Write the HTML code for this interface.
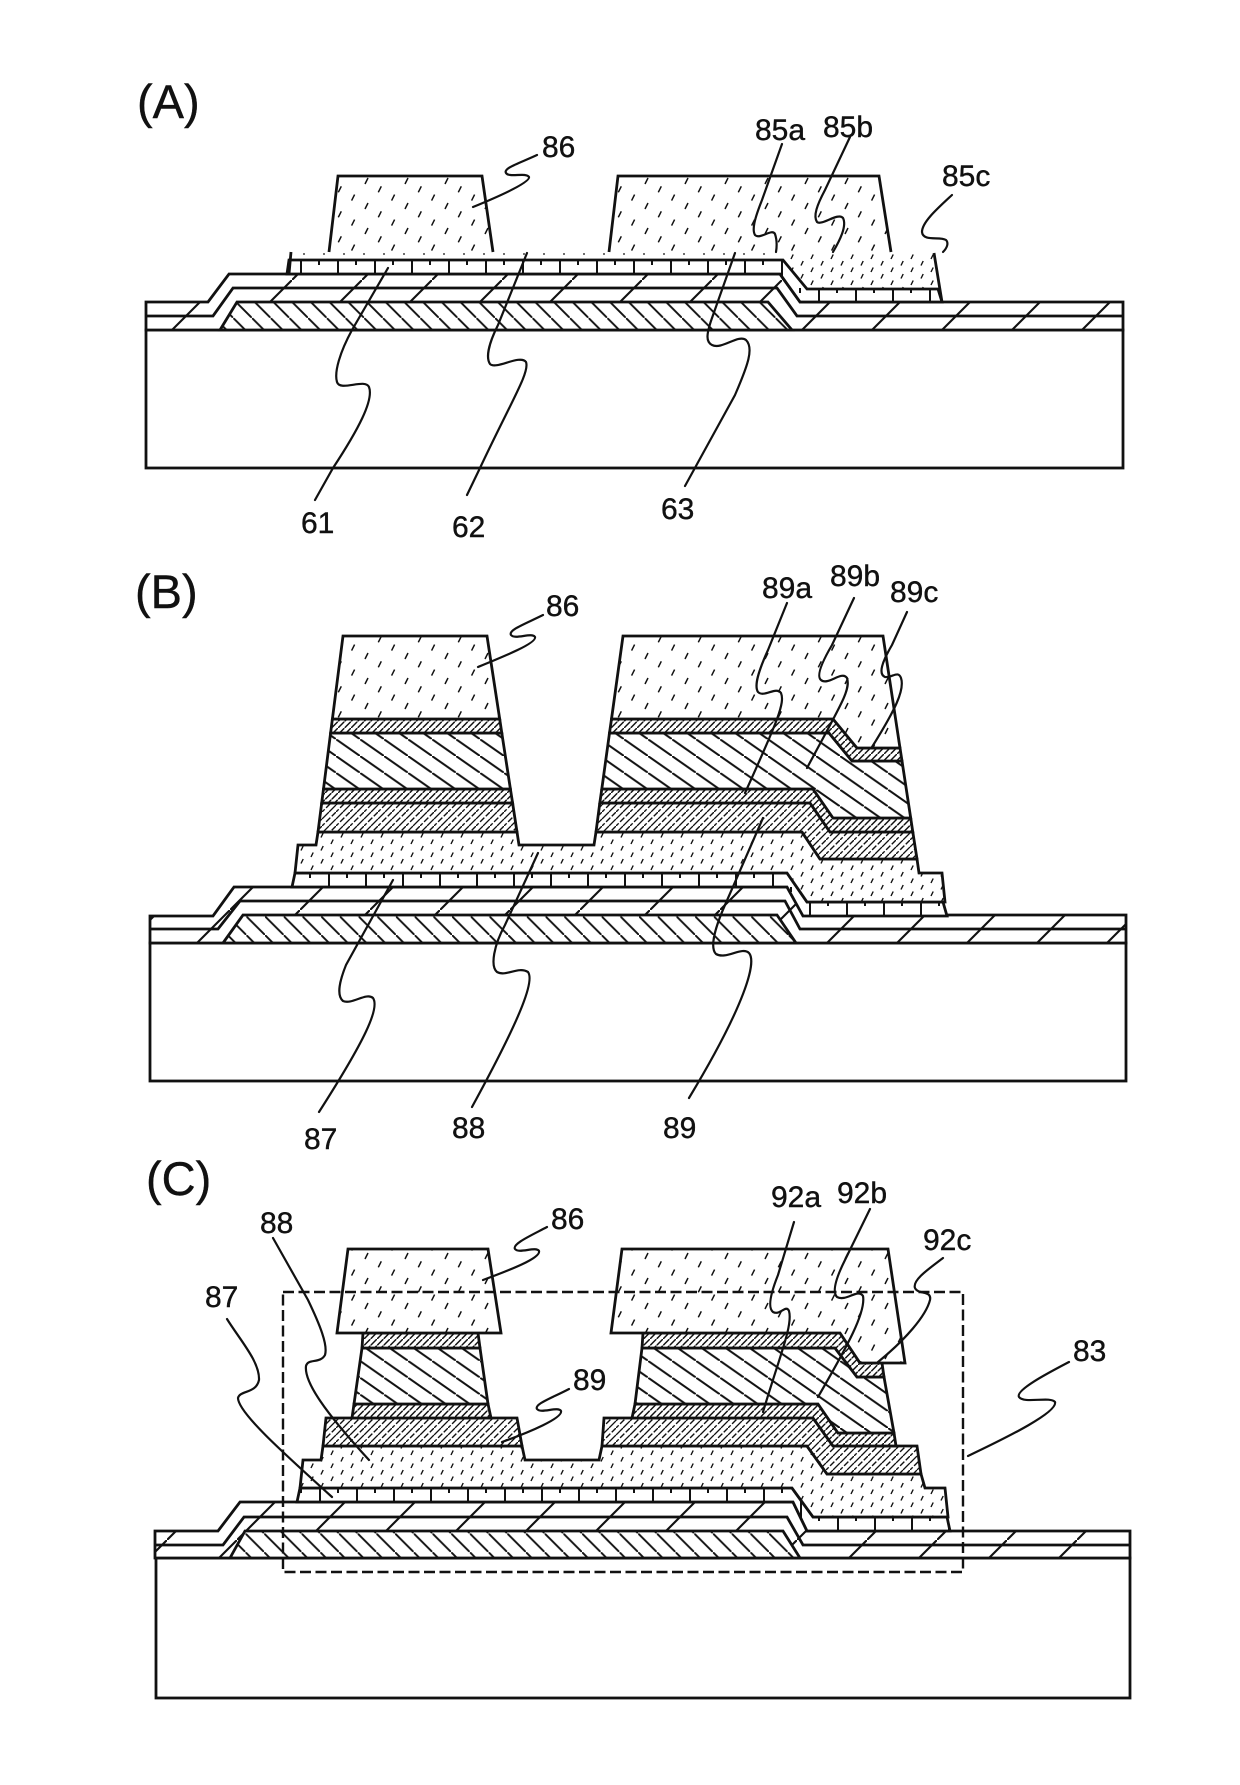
<!DOCTYPE html>
<html><head><meta charset="utf-8"><style>
html,body{margin:0;padding:0;background:#fff}
svg{display:block}
text{font-family:"Liberation Sans",sans-serif;fill:#111;font-size:30px;stroke:#111;stroke-width:.4}
text.p{font-size:47px}
.o{stroke:#111;stroke-width:2.8;stroke-linejoin:miter}
.n{fill:none;stroke:#111;stroke-width:2.8}
.l{fill:none;stroke:#111;stroke-width:2.2;stroke-linecap:round}
</style></head><body>
<svg width="1240" height="1785" viewBox="0 0 1240 1785" xmlns="http://www.w3.org/2000/svg">
<defs>
<pattern id="fA" patternUnits="userSpaceOnUse" x="12" width="70" height="70"><rect width="70" height="70" fill="#fff"/><path d="M70 0L0 70" stroke="#111" stroke-width="2.1"/></pattern>
<pattern id="fB" patternUnits="userSpaceOnUse" x="20" width="70" height="70"><rect width="70" height="70" fill="#fff"/><path d="M70 0L0 70" stroke="#111" stroke-width="2.1"/></pattern>
<pattern id="fC" patternUnits="userSpaceOnUse" x="27" width="70" height="70"><rect width="70" height="70" fill="#fff"/><path d="M70 0L0 70" stroke="#111" stroke-width="2.1"/></pattern>
<pattern id="gA" patternUnits="userSpaceOnUse" x="8.8" width="18.7" height="18.7"><rect width="18.7" height="18.7" fill="#fff"/><path d="M-1 -1L19.7 19.7" stroke="#111" stroke-width="1.9"/></pattern>
<pattern id="gB" patternUnits="userSpaceOnUse" x="3.2" width="18.7" height="18.7"><rect width="18.7" height="18.7" fill="#fff"/><path d="M-1 -1L19.7 19.7" stroke="#111" stroke-width="1.9"/></pattern>
<pattern id="gC" patternUnits="userSpaceOnUse" x="2.3" width="18.7" height="18.7"><rect width="18.7" height="18.7" fill="#fff"/><path d="M-1 -1L19.7 19.7" stroke="#111" stroke-width="1.9"/></pattern>
<pattern id="bA" patternUnits="userSpaceOnUse" x="4" y="8" width="37" height="14"><rect width="37" height="14" fill="#fff"/><path d="M1 0V14M19 0V5" stroke="#111" stroke-width="2"/></pattern>
<pattern id="bB" patternUnits="userSpaceOnUse" x="32" y="5" width="37" height="14"><rect width="37" height="14" fill="#fff"/><path d="M1 0V14M19 0V5" stroke="#111" stroke-width="2"/></pattern>
<pattern id="bC" patternUnits="userSpaceOnUse" x="23" y="4" width="37" height="14"><rect width="37" height="14" fill="#fff"/><path d="M1 0V14M19 0V5" stroke="#111" stroke-width="2"/></pattern>
<pattern id="r" patternUnits="userSpaceOnUse" x="3" y="2" width="40" height="25"><rect width="40" height="25" fill="#fff"/><path d="M2 7L5 1M15.3 15.3L18.3 9.3M28.6 23.6L31.6 17.6" stroke="#111" stroke-width="1.5"/></pattern>
<pattern id="d" patternUnits="userSpaceOnUse" width="20" height="13"><rect width="20" height="13" fill="#fff"/><path d="M1 5.5L3.2 1M11 12L13.2 7.5" stroke="#111" stroke-width="1.4"/></pattern>
<pattern id="s" patternUnits="userSpaceOnUse" x="0" y="250" width="20" height="8"><path d="M3 4h2" stroke="#333" stroke-width="1.4"/></pattern>
<pattern id="h" patternUnits="userSpaceOnUse" width="6.5" height="6.5"><rect width="6.5" height="6.5" fill="#fff"/><path d="M-1 7.5L7.5 -1" stroke="#111" stroke-width="1.5"/></pattern>
<pattern id="w" patternUnits="userSpaceOnUse" width="24" height="16.8"><rect width="24" height="16.8" fill="#fff"/><path d="M-1 -.7L25 17.5" stroke="#111" stroke-width="2"/></pattern>
<pattern id="x" patternUnits="userSpaceOnUse" width="14" height="14"><rect width="14" height="14" fill="#fff"/><path d="M14 0L0 14" stroke="#111" stroke-width="1.4" stroke-dasharray="6 2"/><path d="M7 0L0 7M14 7L7 14" stroke="#111" stroke-width="1.3"/></pattern>
</defs>

<!-- PANEL A -->
<rect class="o" x="146" y="330" width="977" height="138" fill="#fff"/>
<polygon class="o" fill="url(#fA)" points="146,302 208,302 229,274 780,274 800,302 1123,302 1123,330 146,330"/>
<polyline class="n" points="146,316 213,316 233,288 777,288 797,316 1123,316"/>
<polygon class="o" fill="url(#gA)" points="220,330 237,302 768,302 792,330"/>
<rect x="289" y="250" width="494" height="8" fill="url(#s)"/>
<polygon fill="url(#d)" points="783,253 934,253 941,289 807,289 783,260"/>
<polygon class="o" fill="url(#bA)" points="287,274 289,260 783,260 807,289 938,289 942,302 800,302 780,274"/>
<path class="n" d="M289 274L291 252M934 253L942 302"/>
<polygon fill="url(#r)" points="338,176 482,176 493,252 329,252"/>
<polyline class="n" points="329,252 338,176 482,176 493,252"/>
<polygon fill="url(#r)" points="618,176 879,176 891,252 609,252"/>
<polyline class="n" points="609,252 618,176 879,176 891,252"/>

<path class="l" d="M537 155C520 163 503 168 506 173C509 178 526 172 529 177C531 182 500 196 473 207"/>
<path class="l" d="M388 268L352 330C340 352 334 372 337 382C340 392 365 378 369 387C374 400 358 430 333 468L315 500"/>
<path class="l" d="M527 253L498 325C488 345 486 358 490 364C496 370 520 354 526 362C530 372 512 400 480 468L467 495"/>
<path class="l" d="M735 253L712 318C706 335 706 342 712 345C722 350 738 334 746 340C754 348 748 365 735 395L685 486"/>
<path class="l" d="M782 144L762 200C754 220 752 230 755 235C760 240 772 228 775 234C777 240 777 246 776 252"/>
<path class="l" d="M850 137L825 190C817 205 813 216 817 222C822 226 838 212 843 218C847 226 840 240 833 252"/>
<path class="l" d="M952 195C938 208 922 222 922 232C923 242 940 236 946 240C949 243 947 248 943 252"/>

<text class="p" x="137" y="118">(A)</text>
<text x="542" y="157">86</text>
<text x="755" y="140">85a</text>
<text x="823" y="137">85b</text>
<text x="942" y="186">85c</text>
<text x="301" y="533">61</text>
<text x="452" y="537">62</text>
<text x="661" y="519">63</text>

<!-- PANEL B -->
<rect class="o" x="150" y="943" width="976" height="138" fill="#fff"/>
<polygon class="o" fill="url(#fB)" points="150,916 213,916 234,887 787,887 803,915 1126,915 1126,943 150,943"/>
<polyline class="n" points="150,929 218,929 240,901 785,901 800,929 1126,929"/>
<polygon class="o" fill="url(#gB)" points="223,943 243,915 777,915 796,943"/>
<polygon class="o" fill="url(#bB)" points="292,887 295,873 787,873 807,902 943,902 947,916 803,916 787,887"/>
<polygon class="o" fill="url(#d)" points="295,873 298,845 316,845 318,832 517,832 519,845 594,845 596,832 802,832 820,859 917,859 919,873 942,873 945,902 807,902 787,873"/>
<polygon class="o" fill="url(#x)" points="321.7,803 512.6,803 517,832 318,832"/>
<polygon class="o" fill="url(#h)" points="323.5,789 510.4,789 512.6,803 321.7,803"/>
<polygon class="o" fill="url(#w)" points="330.6,733 501.8,733 510.4,789 323.5,789"/>
<polygon class="o" fill="url(#h)" points="332.4,719 499.7,719 501.8,733 330.6,733"/>
<polygon class="o" fill="url(#r)" points="343,636 487,636 499.7,719 332.4,719"/>
<polygon class="o" fill="url(#x)" points="599.8,803 810,803 830,832 912.8,832 917,859 820,859 802,832 596,832"/>
<polygon class="o" fill="url(#h)" points="601.8,789 813,789 833,818 910.7,818 912.8,832 830,832 810,803 599.8,803"/>
<polygon class="o" fill="url(#w)" points="609.5,733 829,733 852,761 902,761 910.7,818 833,818 813,789 601.8,789"/>
<polygon class="o" fill="url(#h)" points="611.5,719 833,719 857,748 900,748 902,761 852,761 829,733 609.5,733"/>
<polygon class="o" fill="url(#r)" points="623,636 883,636 900,748 857,748 833,719 611.5,719"/>

<path class="l" d="M543 615C525 624 508 630 511 635C515 640 532 632 535 637C537 643 505 656 478 667"/>
<path class="l" d="M393 880L346 965C340 980 336 995 343 1001C352 1005 366 992 373 998C380 1008 365 1040 319 1112"/>
<path class="l" d="M538 853L505 925C494 945 490 966 497 972C506 977 518 966 528 972C534 980 525 1010 472 1107"/>
<path class="l" d="M763 818L725 905C714 930 710 948 716 954C726 960 742 946 749 953C757 962 745 1005 689 1098"/>
<path class="l" d="M787 603L768 650C758 672 754 686 758 692C764 698 776 686 781 693C785 703 778 720 745 793"/>
<path class="l" d="M854 598L832 645C822 662 816 676 821 680C828 686 842 670 847 678C851 690 840 706 807 768"/>
<path class="l" d="M907 612L892 645C882 662 878 674 885 677C892 678 898 670 901 678C905 690 895 710 872 747"/>

<text class="p" x="135" y="608">(B)</text>
<text x="546" y="616">86</text>
<text x="762" y="598">89a</text>
<text x="830" y="586">89b</text>
<text x="890" y="602">89c</text>
<text x="304" y="1149">87</text>
<text x="452" y="1138">88</text>
<text x="663" y="1138">89</text>

<!-- PANEL C -->
<rect class="o" x="156" y="1558" width="974" height="140" fill="#fff"/>
<polygon class="o" fill="url(#fC)" points="155,1531 218,1531 240,1502 793,1502 807,1531 1130,1531 1130,1558 155,1558"/>
<polyline class="n" points="155,1545 223,1545 244,1517 787,1517 803,1545 1130,1545"/>
<polygon class="o" fill="url(#gC)" points="230,1558 245,1531 783,1531 800,1558"/>
<polygon class="o" fill="url(#bC)" points="297,1502 300,1488 792,1488 813,1517 947,1517 950,1531 807,1531 793,1502"/>
<polygon class="o" fill="url(#d)" points="300,1488 303,1460 321,1460 323,1446 522,1446 525,1460 599,1460 602,1446 807,1446 827,1474 921,1474 925,1488 945,1488 948,1517 813,1517 792,1488"/>
<polygon class="o" fill="url(#x)" points="326,1418 517,1418 522,1446 323,1446"/>
<polygon class="o" fill="url(#x)" points="604,1418 813,1418 833,1446 917,1446 921,1474 827,1474 807,1446 602,1446"/>
<polygon class="o" fill="url(#h)" points="354,1404 488,1404 491,1418 352,1418"/>
<polygon class="o" fill="url(#w)" points="362,1348 480,1348 488,1404 354,1404"/>
<polygon class="o" fill="url(#h)" points="363,1333 478,1333 480,1348 362,1348"/>
<polygon class="o" fill="url(#r)" points="348,1249 488,1249 501,1333 337,1333"/>
<polygon class="o" fill="url(#h)" points="635,1404 818,1404 838,1433 894,1433 896,1446 833,1446 813,1418 632,1418"/>
<polygon class="o" fill="url(#w)" points="642,1348 835,1348 857,1377 884,1377 894,1433 838,1433 818,1404 635,1404"/>
<polygon class="o" fill="url(#h)" points="643,1333 840,1333 860,1363 882,1363 884,1377 857,1377 835,1348 642,1348"/>
<polygon class="o" fill="url(#r)" points="622,1249 888,1249 905,1363 860,1363 840,1333 611,1333"/>

<rect x="283" y="1292" width="680" height="280" fill="none" stroke="#111" stroke-width="2.4" stroke-dasharray="11 4.5"/>

<path class="l" d="M547 1227C530 1236 512 1244 515 1249C519 1254 536 1246 539 1251C541 1258 510 1270 483 1280"/>
<path class="l" d="M273 1238L308 1300C320 1325 328 1345 325 1355C320 1364 308 1358 306 1366C304 1382 325 1412 369 1460"/>
<path class="l" d="M227 1319C240 1340 260 1362 259 1380C256 1394 240 1390 238 1398C238 1412 280 1450 332 1497"/>
<path class="l" d="M569 1389C552 1398 534 1404 537 1409C541 1414 558 1406 561 1411C563 1418 530 1432 502 1442"/>
<path class="l" d="M794 1222L778 1275C770 1295 768 1308 773 1312C780 1316 786 1304 789 1311C793 1325 780 1355 763 1412"/>
<path class="l" d="M870 1209L845 1260C836 1278 832 1292 837 1297C846 1302 858 1288 863 1296C866 1312 848 1345 818 1397"/>
<path class="l" d="M943 1258C930 1268 912 1280 915 1288C918 1295 932 1290 930 1300C926 1316 905 1340 878 1362"/>
<path class="l" d="M1069 1362C1050 1372 1015 1390 1019 1397C1024 1404 1050 1396 1055 1402C1058 1412 1010 1436 968 1456"/>

<text class="p" x="146" y="1195">(C)</text>
<text x="551" y="1229">86</text>
<text x="260" y="1233">88</text>
<text x="205" y="1307">87</text>
<text x="573" y="1390">89</text>
<text x="771" y="1207">92a</text>
<text x="837" y="1203">92b</text>
<text x="923" y="1250">92c</text>
<text x="1073" y="1361">83</text>
</svg>
</body></html>
